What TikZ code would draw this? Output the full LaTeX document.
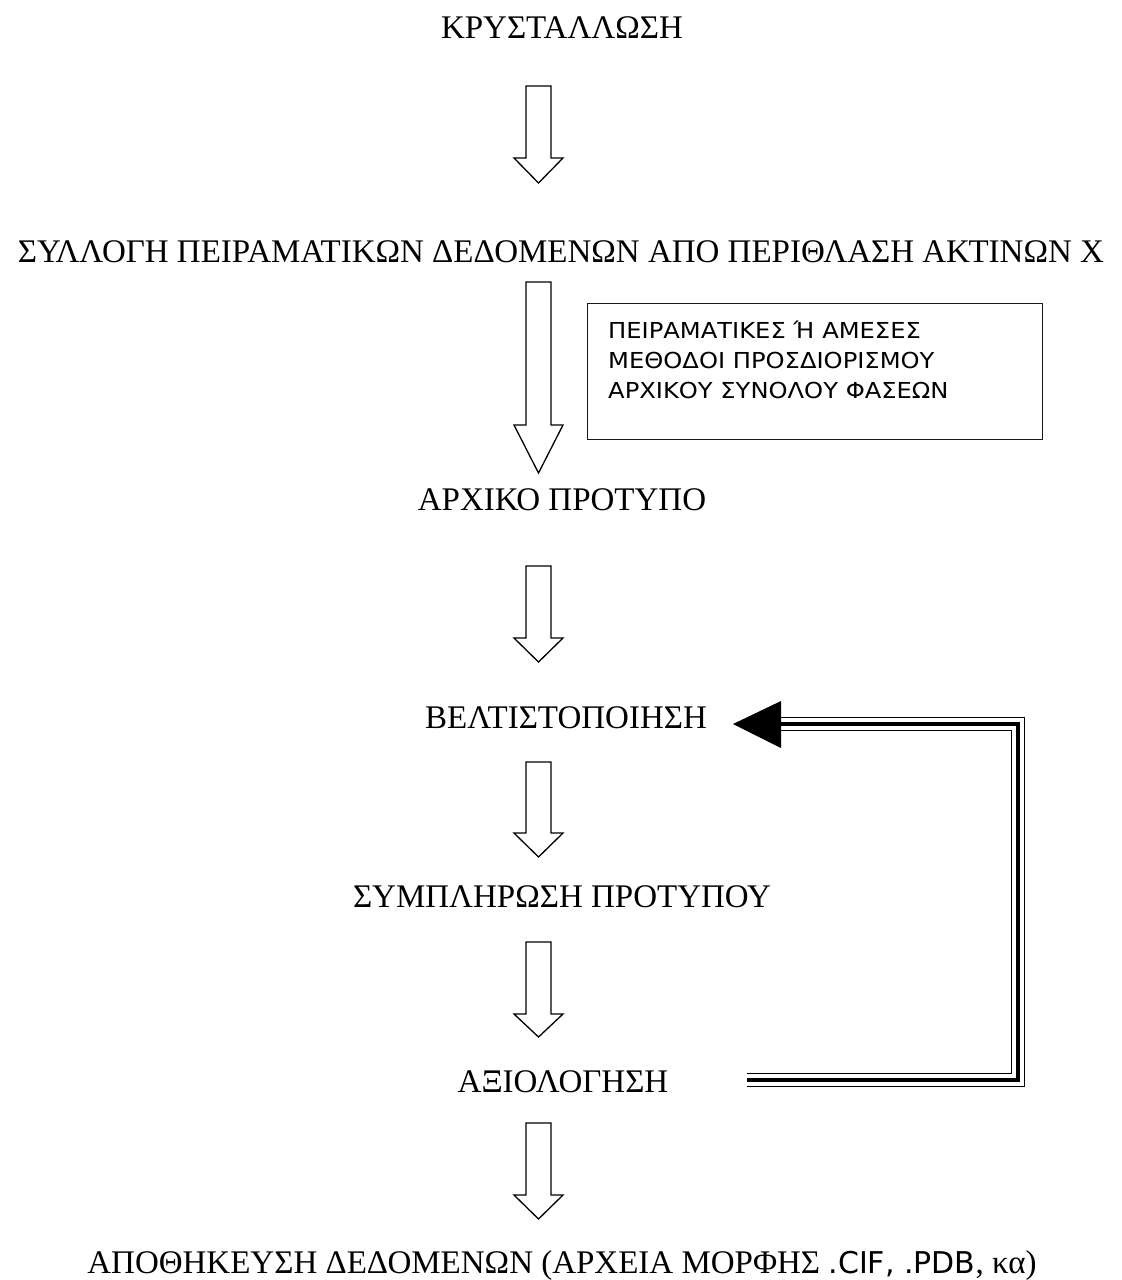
\documentclass[tikz,border=0pt]{standalone}
\usepackage{fontspec}
\setmainfont{Liberation Serif}
\newfontfamily\boxfont{DejaVu Sans}
\tikzset{
  lbl/.style={anchor=base, inner sep=0pt, font=\fontsize{33}{40}\selectfont},
  notetxt/.style={anchor=base west, inner sep=0pt, font=\boxfont\fontsize{22}{26}\selectfont},
  notebox/.style={draw=black!90, line width=1.3pt, anchor=north west, minimum width=455pt, minimum height=136pt, inner sep=0pt},
  blk/.style={draw=black, fill=white, line width=1.3pt, line join=miter},
  tripleout/.style={draw=black, double=white, double distance=11.5pt, line width=1.5pt, line join=miter},
  triplemid/.style={draw=black, line width=4.7pt, line join=miter}
}
\newcommand\blockarrow[4]{%
  \draw[blk] (#1-12.5,#2) -- (#1+12.5,#2) -- (#1+12.5,#3) -- (#1+24.5,#3) -- (#1,#4) -- (#1-24.5,#3) -- (#1-12.5,#3) -- cycle;}
\newcommand\wide[1]{\scalebox{1.1}[1]{#1}}
\begin{document}
\begin{tikzpicture}[x=1pt,y=-1pt]
\useasboundingbox (0,0) rectangle (1122,1280);

\node[lbl] (kryst) at (562,38) {ΚΡΥΣΤΑΛΛΩΣΗ};
\node[lbl] (syll) at (561,262) {ΣΥΛΛΟΓΗ ΠΕΙΡΑΜΑΤΙΚΩΝ ΔΕΔΟΜΕΝΩΝ ΑΠΟ ΠΕΡΙΘΛΑΣΗ ΑΚΤΙΝΩΝ Χ};
\node[lbl] (arxiko) at (562,510) {ΑΡΧΙΚΟ ΠΡΟΤΥΠΟ};
\node[lbl] (velt) at (566,728) {ΒΕΛΤΙΣΤΟΠΟΙΗΣΗ};
\node[lbl] (symp) at (562,907) {ΣΥΜΠΛΗΡΩΣΗ ΠΡΟΤΥΠΟΥ};
\node[lbl] (axio) at (563,1092) {ΑΞΙΟΛΟΓΗΣΗ};
\node[lbl] (apoth) at (562,1273) {ΑΠΟΘΗΚΕΥΣΗ ΔΕΔΟΜΕΝΩΝ (ΑΡΧΕΙΑ ΜΟΡΦΗΣ {\boxfont\fontsize{30}{36}\selectfont .CIF, .PDB}, κα)};

\node[notebox] (box) at (587,303) {};
\node[notetxt] (n1) at (608,338) {\wide{ΠΕΙΡΑΜΑΤΙΚΕΣ Ή ΑΜΕΣΕΣ}};
\node[notetxt] (n2) at (608,368) {\wide{ΜΕΘΟΔΟΙ ΠΡΟΣΔΙΟΡΙΣΜΟΥ}};
\node[notetxt] (n3) at (608,398) {\wide{ΑΡΧΙΚΟΥ ΣΥΝΟΛΟΥ ΦΑΣΕΩΝ}};

\blockarrow{538.5}{86}{158}{183}
\blockarrow{538.5}{282}{425}{473}
\blockarrow{538.5}{566}{638}{662}
\blockarrow{538.5}{762}{833}{857}
\blockarrow{538.5}{942}{1014}{1037}
\blockarrow{538.5}{1123}{1195}{1219}

\coordinate (fbA) at (781,724);
\coordinate (fbB) at (1018,724);
\coordinate (fbC) at (1018,1080);
\coordinate (fbD) at (747,1080);
\coordinate (fbTip) at (733,724);
\draw[tripleout] (fbD) -- (fbC) -- (fbB) -- (fbA);
\draw[triplemid] (fbD) -- (fbC) -- (fbB) -- (fbA);
\fill (fbTip) -- (781,701) -- (781,748) -- cycle;
\end{tikzpicture}
\end{document}
